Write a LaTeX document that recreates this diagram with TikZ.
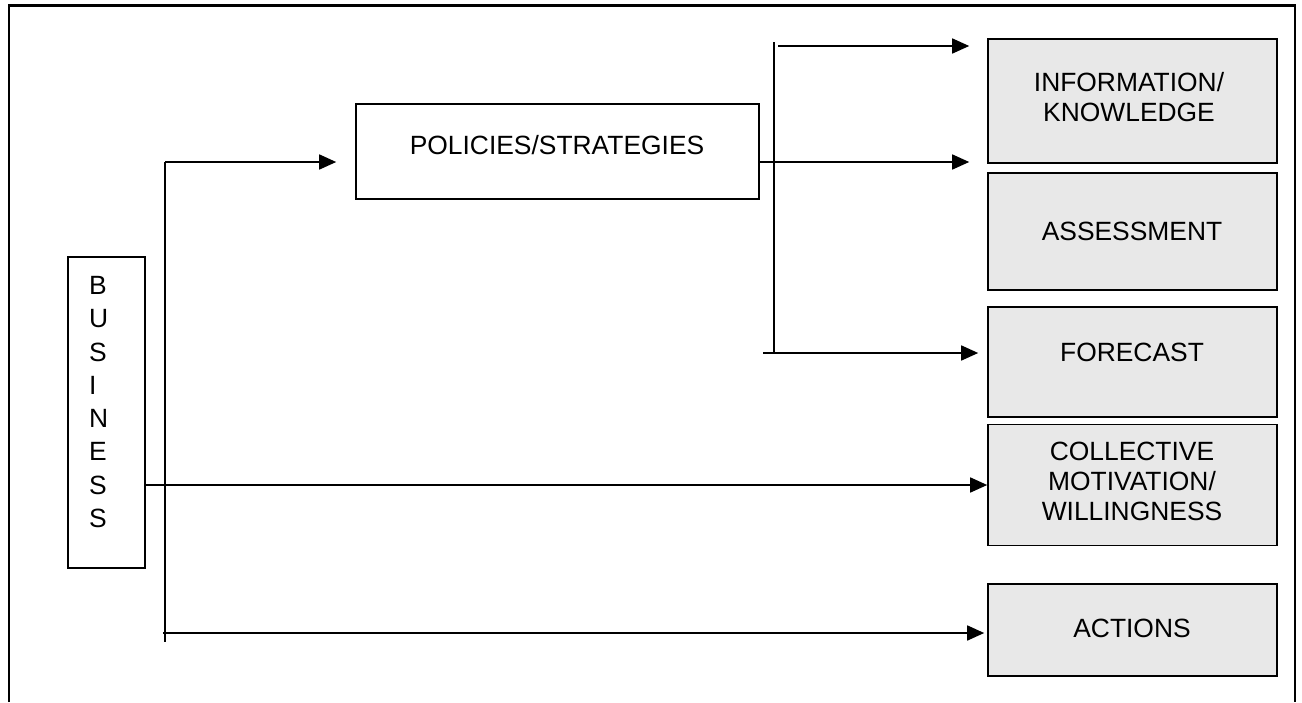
\documentclass[tikz,border=0pt]{standalone}
\usepackage{fontspec}
\setmainfont{Liberation Sans}
\usetikzlibrary{arrows.meta}
\definecolor{boxgray}{RGB}{232,232,232}
\begin{document}
\begin{tikzpicture}[x=1pt,y=-1pt,
  frame/.style={line width=2.6pt},
  box/.style={draw, line width=1.6pt, inner sep=0pt},
  gbox/.style={box, fill=boxgray, minimum width=289pt},
  lbl/.style={font=\fontsize{26.4}{30}\selectfont, align=center, inner sep=0pt},
  arr/.style={line width=1.6pt, -{Triangle[length=17pt,width=15pt]}},
  ln/.style={line width=1.6pt}]
\useasboundingbox (0,0) rectangle (1302,702);
% frame (open at the bottom)
\draw[frame] (9,702) -- (9,5.5) -- (1295,5.5) -- (1295,702);

% boxes
\node[box, minimum width=77pt, minimum height=311pt] (bus) at (106.5,412.5) {};
\node[box, minimum width=403pt, minimum height=95pt] (pol) at (557.5,151.5) {};
\node[gbox, minimum height=124pt] (info) at (1132.5,101) {};
\node[gbox, minimum height=117pt] (assess) at (1132.5,231.5) {};
\node[gbox, minimum height=110pt] (fore) at (1132.5,362) {};
\node[gbox, minimum height=121pt] (coll) at (1132.5,485) {};
\node[gbox, minimum height=92pt] (act) at (1132.5,630) {};

% labels
\node[lbl, font=\fontsize{26.4}{33.3}\selectfont, align=left, anchor=west] (busl) at (89,402) {B\\U\\S\\I\\N\\E\\S\\S};
\node[lbl] (poll) at (557,145) {POLICIES/STRATEGIES};
\node[lbl] (infol) at (1129,97) {INFORMATION/\\KNOWLEDGE};
\node[lbl] (assessl) at (1132,231) {ASSESSMENT};
\node[lbl] (forel) at (1132,352) {FORECAST};
\node[lbl] (colll) at (1132,481) {COLLECTIVE\\MOTIVATION/\\WILLINGNESS};
\node[lbl] (actl) at (1132,628) {ACTIONS};

% left trunk
\coordinate (v1t) at (165,162);
\coordinate (v1b) at (165,642);
\coordinate (v1s) at (163,633);
\draw[ln] (v1t) -- (v1b);
\draw[arr, shorten >=19pt] (v1t) -- (v1t -| pol.west);
\draw[arr, shorten >=3pt] (v1s) -- (v1s -| act.west);
\draw[arr] (bus.east |- coll.west) -- (coll.west);

% right trunk
\coordinate (v2t) at (774,42);
\coordinate (v2b) at (774,353);
\coordinate (t2) at (778,46);
\coordinate (pm) at (759,162);
\coordinate (b2) at (763,353);
\draw[ln] (v2t) -- (v2b);
\draw[arr, shorten >=18pt] (t2) -- (t2 -| info.west);
\draw[arr, shorten >=18pt] (pm) -- (pm -| assess.west);
\draw[arr, shorten >=9pt] (b2) -- (b2 -| fore.west);
\end{tikzpicture}
\end{document}
